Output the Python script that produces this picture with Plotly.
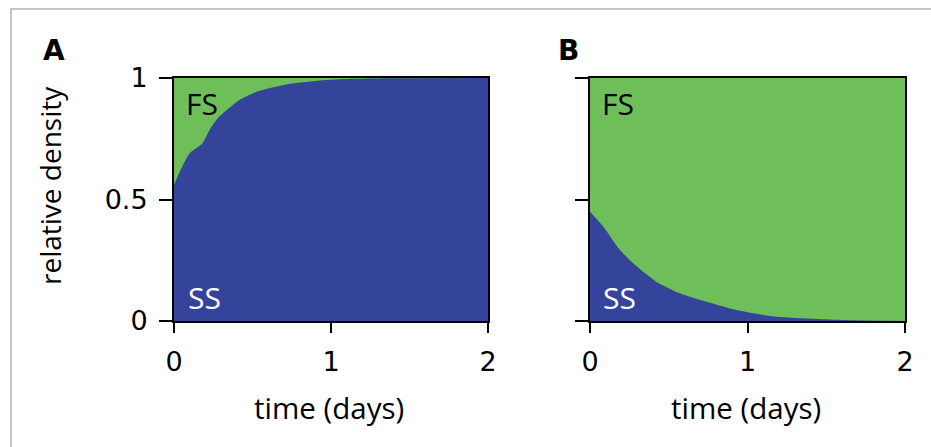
import plotly.graph_objects as go

# Panel A: fraction of slow-switching (SS) cells over time
a_time = [0, 0.02, 0.06, 0.1, 0.18, 0.23, 0.28, 0.34, 0.42, 0.53, 0.6, 0.7, 0.8, 0.91, 1.1, 1.4, 2.0]
a_ss = [0.56, 0.59, 0.645, 0.69, 0.73, 0.79, 0.835, 0.87, 0.91, 0.944, 0.957, 0.971, 0.981, 0.989, 0.996, 0.999, 1.0]

# Panel B
b_time = [0, 0.085, 0.19, 0.30, 0.42, 0.57, 0.74, 0.93, 1.14, 1.35, 1.6, 2.0]
b_ss = [0.45, 0.388, 0.292, 0.223, 0.162, 0.114, 0.079, 0.045, 0.021, 0.011, 0.004, 0.0]

x_ticks = [0, 1, 2]
y_ticks = [0, 0.5, 1]
y_ticklabels = ["0", "0.5", "1"]

BLUE = "#33449a"
GREEN = "#6ebe5a"
W, H = 931, 447

def px_x(p):
    return p / W

def px_y(p):
    return 1 - p / H

fig = go.Figure()
fig.add_trace(go.Scatter(x=a_time, y=a_ss, mode="lines", fill="tozeroy",
                         fillcolor=BLUE, line=dict(width=0, color=BLUE, shape="spline", smoothing=0.6),
                         xaxis="x", yaxis="y", hoverinfo="skip", showlegend=False))
fig.add_trace(go.Scatter(x=b_time, y=b_ss, mode="lines", fill="tozeroy",
                         fillcolor=BLUE, line=dict(width=0, color=BLUE, shape="spline", smoothing=0.6),
                         xaxis="x2", yaxis="y2", hoverinfo="skip", showlegend=False))

tickfont = dict(family="DejaVu Sans", size=27, color="black")
common_x = dict(range=[0, 2], tickvals=x_ticks, ticks="outside", ticklen=10, tickwidth=2,
                tickcolor="black", showline=True, linecolor="black", linewidth=2,
                mirror=True, showgrid=False, zeroline=False, tickfont=tickfont,
                automargin=False, ticklabelstandoff=6)
common_y = dict(range=[0, 1], tickvals=y_ticks, ticks="outside", ticklen=13, tickwidth=2,
                tickcolor="black", showline=True, linecolor="black", linewidth=2,
                mirror=True, showgrid=False, zeroline=False, tickfont=tickfont,
                automargin=False, ticklabelstandoff=6)

yd = [px_y(321), px_y(78)]
fig.update_layout(
    width=W, height=H, autosize=False,
    margin=dict(l=0, r=0, t=0, b=0, pad=0),
    paper_bgcolor="white",
    plot_bgcolor=GREEN,
    xaxis=dict(domain=[px_x(174), px_x(488)], anchor="y", **common_x),
    yaxis=dict(domain=yd, anchor="x", ticktext=y_ticklabels, **common_y),
    xaxis2=dict(domain=[px_x(590), px_x(905)], anchor="y2", **common_x),
    yaxis2=dict(domain=yd, anchor="x2", showticklabels=False, **common_y),
)

annots = [
    dict(text="<b>A</b>", x=px_x(54), y=px_y(51), size=28, color="black", family="DejaVu Sans"),
    dict(text="<b>B</b>", x=px_x(568), y=px_y(51), size=28, color="black", family="DejaVu Sans"),
    dict(text="FS", x=px_x(202), y=px_y(104), size=30, color="black", family="Open Sans"),
    dict(text="SS", x=px_x(204), y=px_y(297), size=30, color="white", family="Open Sans"),
    dict(text="FS", x=px_x(618), y=px_y(104), size=30, color="black", family="Open Sans"),
    dict(text="SS", x=px_x(619), y=px_y(297), size=30, color="white", family="Open Sans"),
    dict(text="time (days)", x=px_x(329), y=px_y(407), size=29.5, color="black", family="Open Sans"),
    dict(text="time (days)", x=px_x(746), y=px_y(407), size=29.5, color="black", family="Open Sans"),
]
for a in annots:
    fig.add_annotation(text=a["text"], x=a["x"], y=a["y"], xref="paper", yref="paper",
                       showarrow=False, xanchor="center", yanchor="middle",
                       font=dict(family=a["family"], size=a["size"], color=a["color"]))
fig.add_annotation(text="relative density", x=px_x(50), y=px_y(186), xref="paper", yref="paper",
                   showarrow=False, textangle=-90, xanchor="center", yanchor="middle",
                   font=dict(family="Open Sans", size=28, color="black"))

# light gray frame around the figure (top and left edges visible)
fig.add_shape(type="rect", xref="paper", yref="paper",
              x0=px_x(11), x1=1.05, y0=-0.05, y1=px_y(9),
              line=dict(color="#c4c4c4", width=2), fillcolor="rgba(0,0,0,0)", layer="below")

fig.write_html("out.html", config={"displayModeBar": False},
               post_script="document.body.style.margin='0px';")
